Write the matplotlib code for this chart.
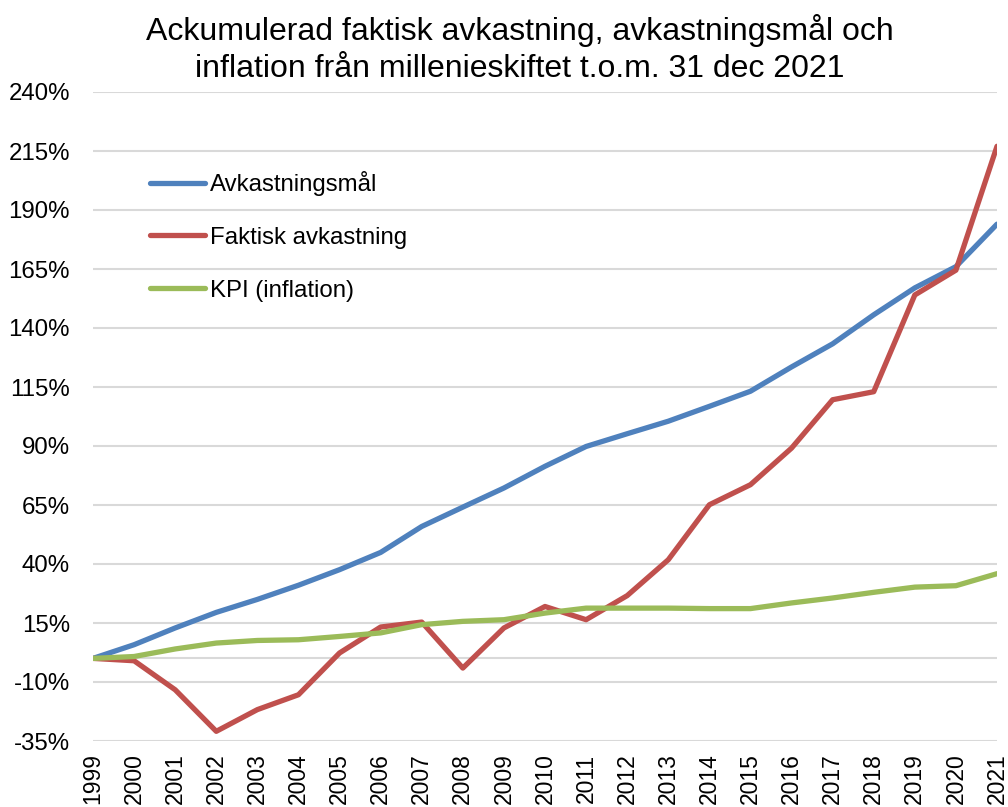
import matplotlib
matplotlib.use("Agg")
import matplotlib.pyplot as plt
from matplotlib.ticker import FuncFormatter

plt.rcParams['font.family'] = ['Liberation Sans', 'DejaVu Sans']

years = list(range(1999, 2022))
avkastningsmal = [0, 5.8, 12.9, 19.5, 25, 31, 37.6, 44.9, 55.9, 64.1, 72.2, 81.4,
                  89.8, 95.2, 100.5, 106.8, 113.2, 123.5, 133.3, 145.6, 157, 166, 184]
faktisk = [0, -1, -13.3, -30.9, -21.7, -15.4, 2.3, 13.3, 15.4, -4.1, 12.9, 22,
           16.4, 26.6, 41.8, 65.1, 73.6, 89.1, 109.6, 113, 154, 164.5, 217]
kpi = [0, 0.8, 4, 6.5, 7.6, 7.9, 9.3, 10.8, 14.3, 15.7, 16.4, 19.2,
       21.3, 21.3, 21.3, 21.1, 21.1, 23.5, 25.6, 28, 30.2, 30.8, 35.9]
yticks = [-35, -10, 15, 40, 65, 90, 115, 140, 165, 190, 215, 240]
labels = ["Avkastningsmål", "Faktisk avkastning", "KPI (inflation)"]
title = "Ackumulerad faktisk avkastning, avkastningsmål och\ninflation från millenieskiftet t.o.m. 31 dec 2021"

W, H = 1008, 807
fig = plt.figure(figsize=(W / 100, H / 100), dpi=100)
ax = fig.add_axes([93 / W, (H - 741) / H, 904 / W, 649 / H])

grid_c = "#D9D9D9"
for t in yticks:
    ax.axhline(t, color=grid_c, lw=1.5, zorder=0)
ax.axhline(0, color=grid_c, lw=1.5, zorder=0)

lw = 3.8
ax.plot(years, avkastningsmal, color="#4F81BD", lw=lw, label=labels[0], solid_capstyle='round', solid_joinstyle='round')
ax.plot(years, faktisk, color="#C0504D", lw=lw, label=labels[1], solid_capstyle='round', solid_joinstyle='round')
ax.plot(years, kpi, color="#9BBB59", lw=lw, label=labels[2], solid_capstyle='round', solid_joinstyle='round')

ax.set_xlim(1999, 2021)
ax.set_ylim(-35, 240)
ax.set_yticks(yticks)
ax.yaxis.set_major_formatter(FuncFormatter(lambda v, p: f"{int(v)}%"))
ax.set_xticks(years)
ax.set_xticklabels([str(y) for y in years], rotation=90)
ax.tick_params(axis='y', length=0, pad=16.5, labelsize=17.3)
ax.tick_params(axis='x', length=0, pad=9, labelsize=16.5)
for s in ax.spines.values():
    s.set_visible(False)

leg = ax.legend(loc='upper left', bbox_to_anchor=(150 / W, 1 - 171 / H),
                bbox_transform=fig.transFigure, frameon=False, fontsize=17.3,
                handlelength=2.3, handletextpad=0.2, labelspacing=1.28,
                borderpad=0, borderaxespad=0)

fig.text(520 / W, 1 - 49 / H, title, ha='center', va='center', fontsize=23,
         linespacing=1.3)

fig.savefig("out.png", dpi=100)
